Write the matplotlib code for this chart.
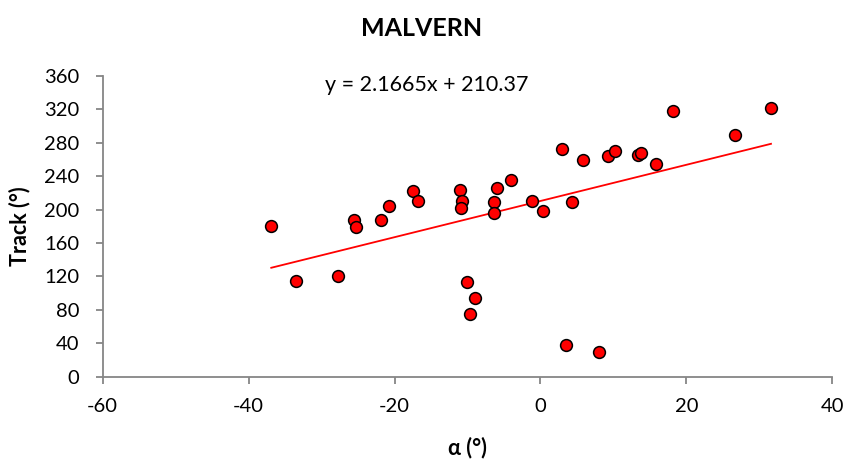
import numpy as np
import matplotlib
matplotlib.use('Agg')
import matplotlib.pyplot as plt

# Heading angle alpha (deg) against track (deg) at Malvern
alpha = [-36.9, -33.5, -27.7, -25.6, -25.3, -21.8, -20.8, -17.5, -16.8,
         -11.0, -10.7, -10.9, -10.1, -9.0, -9.7, -6.0, -6.3, -6.3, -4.1,
         -1.2, 0.3, 3.0, 4.3, 5.9, 9.2, 10.2, 13.4, 13.8, 15.9, 18.2,
         26.7, 31.6, 3.5, 8.0]
track = [181, 115, 120, 188, 179, 188, 204, 222, 210,
         223, 210, 202, 113, 94, 75, 226, 209, 196, 236,
         210, 198, 273, 209, 259, 264, 270, 266, 268, 255, 318,
         289, 322, 38, 30]

# linear trend as reported on the chart
slope = 2.1665
intercept = 210.37

plt.rcParams['font.family'] = ['Lato', 'DejaVu Sans']
plt.rcParams['axes.unicode_minus'] = False

fig = plt.figure(figsize=(8.49, 4.66), dpi=100)
ax = fig.add_axes([0.1210, 0.1916, 0.8593, 0.6453])

ax.scatter(alpha, track, s=72, facecolor='#ff0000', edgecolor='black',
           linewidth=1.1, zorder=3)

xs = np.array([min(alpha), max(alpha)])
ax.plot(xs, slope * xs + intercept, color='#ff0000', linewidth=1.3, zorder=2)

ax.text(-15.6, 349, f"y = {slope}x + {intercept}", fontsize=15.5,
        ha='center', va='center')

ax.set_xlim(-60, 40)
ax.set_ylim(0, 360)
ax.set_xticks(np.arange(-60, 41, 20))
ax.set_yticks(np.arange(0, 361, 40))

for side in ['top', 'right']:
    ax.spines[side].set_visible(False)
for side in ['left', 'bottom']:
    ax.spines[side].set_color('#868686')
    ax.spines[side].set_linewidth(1.3)
ax.tick_params(axis='both', direction='out', length=5, width=1.3,
               color='#868686', labelsize=14.5, labelcolor='black')
ax.tick_params(axis='x', pad=10)
ax.tick_params(axis='y', pad=12)

fig.text(467 / 849, 1 - 448 / 466, 'α (°)', fontsize=15.5, fontweight='bold',
         ha='center', va='center')
fig.text(20 / 849, 1 - 226 / 466, 'Track (°)', fontsize=15.5, fontweight='bold',
         ha='center', va='center', rotation=90)
fig.text(422 / 849, 1 - 28 / 466, 'MALVERN', fontsize=18, fontweight='bold',
         ha='center', va='center')

fig.savefig('out.png', dpi=100)
